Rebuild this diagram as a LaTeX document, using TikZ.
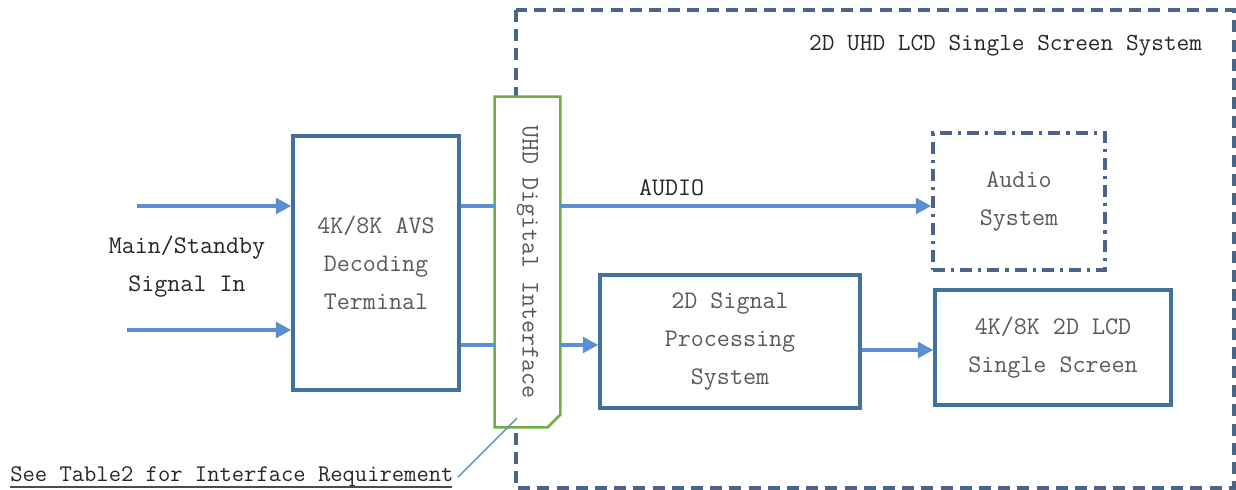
\documentclass[tikz,border=0pt]{standalone}
\usetikzlibrary{arrows.meta}
\definecolor{boxblue}{HTML}{41719C}
\definecolor{sysblue}{HTML}{4A6587}
\definecolor{sigblue}{HTML}{5B8FD0}
\definecolor{ifgreen}{HTML}{70AD47}
\definecolor{boxtext}{HTML}{595959}

\begin{document}
\begin{tikzpicture}[
    x=0.025cm, y=-0.025cm,
    every node/.style={font=\ttfamily\fontsize{18}{27}\selectfont},
    block/.style={rectangle, draw=boxblue, line width=2.3pt, fill=white,
        align=center, text=boxtext},
    audiobox/.style={block, draw=sysblue,
        dash pattern=on 0.3cm off 0.15cm on 0.08cm off 0.15cm},
    label/.style={align=center, text=black!85},
    sig/.style={draw=sigblue, line width=3.5pt,
        -{Triangle[length=11pt,width=11pt]}},
    link/.style={draw=sigblue, line width=3.5pt, -},
    lead/.style={draw=sigblue, line width=1pt}
]
    \useasboundingbox (0,0) rectangle (1236,490);
    % system frame
    \draw[sysblue, line width=2.5pt, dash pattern=on 0.3cm off 0.18cm]
        (516,10) rectangle (1234,488);
    \node[label, anchor=east, font=\ttfamily\fontsize{17.5}{26}\selectfont]
        (title) at (1207,46) {2D UHD LCD Single Screen System};

    \node[block, minimum width=4.15cm, minimum height=6.35cm] (dec) at (376,263)
        {4K/8K AVS\\Decoding\\Terminal};
    \node[draw=none, fill=white, minimum width=1.625cm, minimum height=8.25cm,
        inner sep=0pt, text=boxtext] (iface) at (527.5,262)
        {\rotatebox{-90}{UHD Digital Interface}};
    \draw[ifgreen, line width=1.8pt] (iface.north west) -- (iface.north east)
        -- ([yshift=9pt]iface.south east) -- ([xshift=-9pt]iface.south east)
        -- (iface.south west) -- cycle;
    \node[audiobox, minimum width=4.3cm, minimum height=3.425cm] (audio)
        at (1019,201.5) {Audio\\System};
    \node[block, minimum width=6.5cm, minimum height=3.325cm] (proc) at (730,341.5)
        {2D Signal\\Processing\\System};
    \node[block, minimum width=5.9cm, minimum height=2.875cm] (lcd) at (1053,347.5)
        {4K/8K 2D LCD\\Single Screen};

    % inputs
    \coordinate (in1) at (137,206);
    \coordinate (in2) at (127,330);
    \node[label] (main) at (187,267) {Main/Standby\\Signal In};
    \draw[sig] (in1) -- (in1 -| dec.west);
    \draw[sig] (in2) -- (in2 -| dec.west);

    % decoder to interface and onwards
    \coordinate (lo) at (460,345);
    \coordinate (pl) at (862,350);
    \draw[link] (dec.east |- in1) -- (iface.west |- in1);
    \draw[link] (dec.east |- lo) -- (iface.west |- lo);
    \draw[sig] (iface.east |- in1) -- (audio.west |- in1)
        node[label, pos=0.3, above=2pt] (aud) {AUDIO};
    \draw[sig] (iface.east |- lo) -- (proc.west |- lo);
    \draw[sig] (proc.east |- pl) -- (lcd.west |- pl);

    % note
    \node[label, anchor=base west, inner sep=0pt,
        font=\ttfamily\fontsize{17}{20}\selectfont]
        (note) at (10,482) {See Table2 for Interface Requirement};
    \draw[black!70, line width=1pt] (10,487) -- (452,487);
    \coordinate (tip) at (517,418);
    \draw[lead] ([xshift=3pt]note.east) -- (tip);
\end{tikzpicture}
\end{document}
